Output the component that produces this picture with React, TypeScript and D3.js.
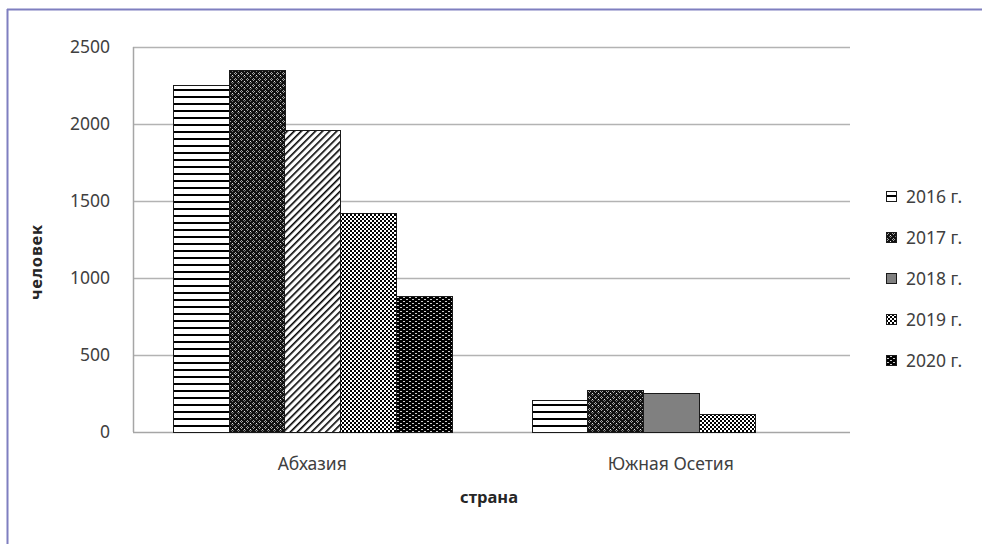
import React from 'react';
import * as d3 from 'd3';

// Chart data
const categories = ['Абхазия', 'Южная Осетия'];
const years = ['2016 г.', '2017 г.', '2018 г.', '2019 г.', '2020 г.'];
const abkhaziaValues = [2255, 2350, 1960, 1420, 885];
const ossetiaValues = [210, 270, 255, 115, null];
const yTicks = [0, 500, 1000, 1500, 2000, 2500];

const seriesValues: (number | null)[][] = years.map((_, i) => [abkhaziaValues[i], ossetiaValues[i]]);

// fill per series (legend), with a per-point override seen in the original
const seriesFills = ['url(#p2016)', 'url(#p2017)', 'url(#p2018s)', 'url(#p2019)', 'url(#p2020)'];
const pointFill = (s: number, c: number) => (s === 2 && c === 0 ? 'url(#p2018)' : seriesFills[s]);

const FONT = '"Noto Sans", "Open Sans", sans-serif';

const App: React.FC = () => {
  const width = 982;
  const height = 544;
  const plot = { left: 133, right: 850, top: 47, bottom: 432 };

  const x0 = d3.scaleBand<string>().domain(categories).range([plot.left, plot.right]).padding(0);
  const x1 = d3
    .scaleBand<string>()
    .domain(years)
    .range([0, x0.bandwidth()])
    .paddingInner(0)
    .paddingOuter(0.725);
  const y = d3.scaleLinear().domain([0, 2500]).range([plot.bottom, plot.top]);

  const legendX = 886;
  const legendY0 = 197;
  const legendStep = 41;

  return (
    <div style={{ position: 'absolute', left: 0, top: 0 }}>
      <svg width={width} height={height} style={{ display: 'block', background: '#fff' }}>
        <defs>
          <pattern id="p2016" patternUnits="userSpaceOnUse" width={8} height={7}>
            <rect width={8} height={7} fill="#fff" />
            <rect y={5} width={8} height={2} fill="#000" />
          </pattern>
          <pattern id="p2017" patternUnits="userSpaceOnUse" width={6} height={6}>
            <rect width={6} height={6} fill="#111" />
            <rect x={1} y={0} width={1} height={1} fill="#aaa" />
            <rect x={0} y={1} width={1} height={1} fill="#aaa" />
            <rect x={2} y={1} width={1} height={1} fill="#aaa" />
            <rect x={1} y={2} width={1} height={1} fill="#aaa" />
            <rect x={4} y={3} width={1} height={1} fill="#eee" />
            <rect x={3} y={4} width={1} height={1} fill="#777" />
            <rect x={5} y={4} width={1} height={1} fill="#777" />
            <rect x={4} y={5} width={1} height={1} fill="#777" />
          </pattern>
          <pattern id="p2018" patternUnits="userSpaceOnUse" width={5} height={5} patternTransform="rotate(45)">
            <rect width={5} height={5} fill="#fff" />
            <rect width={1.6} height={5} fill="#000" />
          </pattern>
          <pattern id="p2018s" patternUnits="userSpaceOnUse" width={4} height={4}>
            <rect width={4} height={4} fill="#808080" />
          </pattern>
          <pattern id="p2019" patternUnits="userSpaceOnUse" width={4} height={4}>
            <rect width={4} height={4} fill="#fff" />
            <rect width={2} height={2} fill="#000" />
            <rect x={2} y={2} width={2} height={2} fill="#000" />
          </pattern>
          <pattern id="p2020" patternUnits="userSpaceOnUse" width={6} height={4}>
            <rect width={6} height={4} fill="#000" />
            <rect x={1} y={1} width={2} height={1} fill="#ccc" />
            <rect x={4} y={3} width={2} height={1} fill="#ccc" />
          </pattern>
        </defs>

        {/* outer frame (only top and left edges are in view) */}
        <line x1={7} x2={width} y1={9.5} y2={9.5} stroke="#7f7fc0" strokeWidth={2} />
        <line x1={7.5} x2={7.5} y1={9} y2={height} stroke="#7f7fc0" strokeWidth={2} />

        {/* gridlines */}
        {yTicks.map((t) => (
          <line
            key={t}
            x1={plot.left}
            x2={plot.right}
            y1={Math.round(y(t)) + 0.5}
            y2={Math.round(y(t)) + 0.5}
            stroke={t === 0 ? '#a6a6a6' : '#b3b3b3'}
            strokeWidth={1.5}
          />
        ))}
        <line x1={plot.left + 0.5} x2={plot.left + 0.5} y1={plot.top} y2={plot.bottom} stroke="#a6a6a6" strokeWidth={1.5} />

        {/* y tick labels */}
        {yTicks.map((t) => (
          <text key={t} x={110} y={y(t)} dy="0.35em" textAnchor="end" fontFamily={FONT} fontSize={17.5} fill="#404040">
            {t}
          </text>
        ))}

        {/* bars */}
        {seriesValues.map((vals, s) =>
          vals.map((v, c) => {
            if (v == null) return null;
            const bx = (x0(categories[c]) as number) + (x1(years[s]) as number);
            const top = y(v);
            return (
              <rect
                key={`${s}-${c}`}
                x={Math.round(bx) + 0.5}
                y={Math.round(top) + 0.5}
                width={Math.round(x1.bandwidth())}
                height={Math.round(y(0) - top)}
                fill={pointFill(s, c)}
                stroke="#1a1a1a"
                strokeWidth={1}
              />
            );
          })
        )}

        {/* category labels */}
        {categories.map((c) => (
          <text
            key={c}
            x={(x0(c) as number) + x0.bandwidth() / 2}
            y={464}
            dy="0.35em"
            textAnchor="middle"
            fontFamily={FONT}
            fontSize={17.5}
            fill="#404040"
          >
            {c}
          </text>
        ))}

        {/* axis titles */}
        <text x={489} y={497} dy="0.35em" textAnchor="middle" fontFamily={FONT} fontSize={16.5} fontWeight="bold" fill="#262626">
          страна
        </text>
        <text
          transform={`translate(36, 262) rotate(-90)`}
          dy="0.35em"
          textAnchor="middle"
          fontFamily={FONT}
          fontSize={16.5}
          fontWeight="bold"
          fill="#262626"
          letterSpacing={0.8}
        >
          человек
        </text>

        {/* legend */}
        {years.map((yr, i) => (
          <g key={yr} transform={`translate(${legendX}, ${legendY0 + i * legendStep})`}>
            <rect x={0.5} y={-5.5} width={10} height={10} fill={seriesFills[i]} stroke="#1a1a1a" strokeWidth={1} />
            <text x={20} y={0} dy="0.35em" fontFamily={FONT} fontSize={17.5} fill="#404040">
              {yr}
            </text>
          </g>
        ))}
      </svg>
    </div>
  );
};

export default App;
